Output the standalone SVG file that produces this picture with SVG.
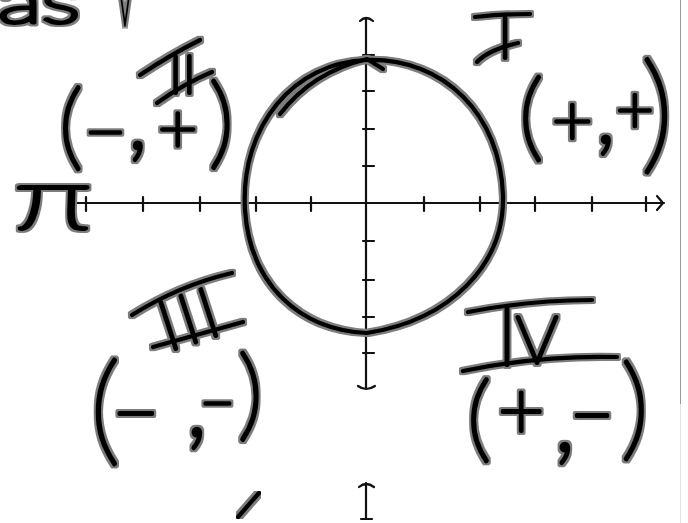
<svg xmlns="http://www.w3.org/2000/svg" width="688" height="523" viewBox="0 0 688 523">
<defs>
<filter id="halo" x="-5%" y="-5%" width="110%" height="110%" color-interpolation-filters="sRGB">
<feMorphology in="SourceAlpha" operator="dilate" radius="2.2" result="d"/>
<feGaussianBlur in="d" stdDeviation="0.6" result="db"/>
<feFlood flood-color="#7d7d7d"/>
<feComposite in2="db" operator="in" result="h"/>
<feMerge><feMergeNode in="h"/><feMergeNode in="SourceGraphic"/></feMerge>
</filter>
<style>
.axis{fill:none;stroke:#111;stroke-width:2.2;stroke-linecap:round;stroke-linejoin:round}
.ink{fill:none;stroke:#000;stroke-width:4.2;stroke-linecap:round;stroke-linejoin:round}
.hw{font-family:Lato,Roboto,Inter,"Liberation Sans",sans-serif;font-weight:100;fill:#000;stroke:#000;stroke-width:4;stroke-linejoin:round;stroke-linecap:round}
</style>
</defs>
<rect width="688" height="523" fill="#fff"/>
<line x1="680.5" y1="0" x2="680.5" y2="404" stroke="#9a9a9a" stroke-width="1"/>
<line x1="680.5" y1="404" x2="680.5" y2="523" stroke="#e2e2e2" stroke-width="1"/>

<g id="connectors">
<g id="x-axis" class="axis">
<path d="M68,203 H664"/>
<path d="M74,196 L69,203 L74,210"/>
<path d="M657,196 L663,203 L657,210"/>
<path d="M86,197 V211 M143,197 V211 M200,197 V211 M256,197 V211 M311,197 V211 M424,197 V211 M480,197 V211 M535,197 V211 M592,197 V211 M646,197 V211"/>
</g>
<g id="y-axis" class="axis">
<path d="M366,19 V388"/>
<path d="M360,21 Q366,15 373,21"/>
<path d="M358,386 Q366,392 375,386"/>
<path d="M363,55 H374 M363,91 H374 M363,129 H374 M363,166 H374 M363,241 H374 M363,280 H374 M363,317 H374 M363,353 H374"/>
</g>
<g id="y-axis-lower" class="axis">
<path d="M366,483 V519"/>
<path d="M359,487 Q366,481 374,487"/>
<path d="M361,519 H372"/>
</g>
</g>

<g id="unit-circle" filter="url(#halo)">
<path class="ink" d="M367,60 C445,58 500,115 503,195 C505,265 450,320 367,333 C300,330 250,285 245,210 C240,125 295,62 367,60 Z"/>
<path class="ink" d="M280,114 C300,88 330,68 367,59 L383,69"/>
</g>

<g id="top-note" filter="url(#halo)">
<text class="hw" x="-2" y="23" font-size="60" textLength="82" lengthAdjust="spacingAndGlyphs">as</text>
<text class="hw" x="125" y="25" font-size="60" text-anchor="middle" textLength="13" lengthAdjust="spacingAndGlyphs">V</text>
</g>

<g id="quadrant-1" filter="url(#halo)">
<text class="hw" x="505" y="58" font-size="58" text-anchor="middle">I</text>
<path class="ink" d="M475,17 Q500,14 530,14 M477,62 Q488,50 518,43"/>
<text class="hw"><tspan x="519" y="149" font-size="96">(</tspan><tspan x="552" y="145" font-size="70">+</tspan><tspan x="595" y="142" font-size="100">,</tspan><tspan x="616" y="133" font-size="65">+</tspan><tspan x="641" y="157" font-size="130">)</tspan></text>
</g>

<g id="quadrant-2" filter="url(#halo)">
<text class="hw" x="183" y="93" font-size="52" text-anchor="middle" letter-spacing="1">II</text>
<path class="ink" d="M140,75 Q170,55 200,40 M157,103 Q185,83 212,72"/>
<text class="hw"><tspan x="59" y="158" font-size="94">(</tspan><tspan x="84" y="157" font-size="74">−</tspan><tspan x="127" y="148" font-size="100">,</tspan><tspan x="158" y="152" font-size="68">+</tspan><tspan x="209" y="156" font-size="100">)</tspan></text>
</g>

<g id="pi-label" filter="url(#halo)">
<text class="hw" x="53" y="228" font-size="87" text-anchor="middle" textLength="78" lengthAdjust="spacingAndGlyphs">π</text>
</g>

<g id="quadrant-3" filter="url(#halo)">
<text class="hw" x="190" y="343" font-size="70" text-anchor="middle" letter-spacing="4" transform="rotate(-18 190 318)">III</text>
<path class="ink" d="M132,315 Q180,285 232,273 M153,347 L243,322"/>
<text class="hw"><tspan x="90" y="450" font-size="120">(</tspan><tspan x="112" y="441" font-size="82">−</tspan><tspan x="185" y="435" font-size="110">,</tspan><tspan x="200" y="424" font-size="60">−</tspan><tspan x="238" y="428" font-size="100">)</tspan></text>
</g>

<g id="quadrant-4" filter="url(#halo)">
<text class="hw" y="365"><tspan x="497" font-size="82">I</tspan><tspan x="516" y="363" font-size="66">V</tspan></text>
<path class="ink" d="M468,312 Q530,300 592,300 M463,371 Q540,355 617,357"/>
<text class="hw"><tspan x="467" y="450" font-size="95">(</tspan><tspan x="498" y="438" font-size="80">+</tspan><tspan x="553" y="450" font-size="110">,</tspan><tspan x="570" y="441" font-size="76">−</tspan><tspan x="621" y="446" font-size="112">)</tspan></text>
</g>

<g id="stray-mark" filter="url(#halo)">
<path class="ink" d="M238,517 L259,493"/>
</g>
</svg>
